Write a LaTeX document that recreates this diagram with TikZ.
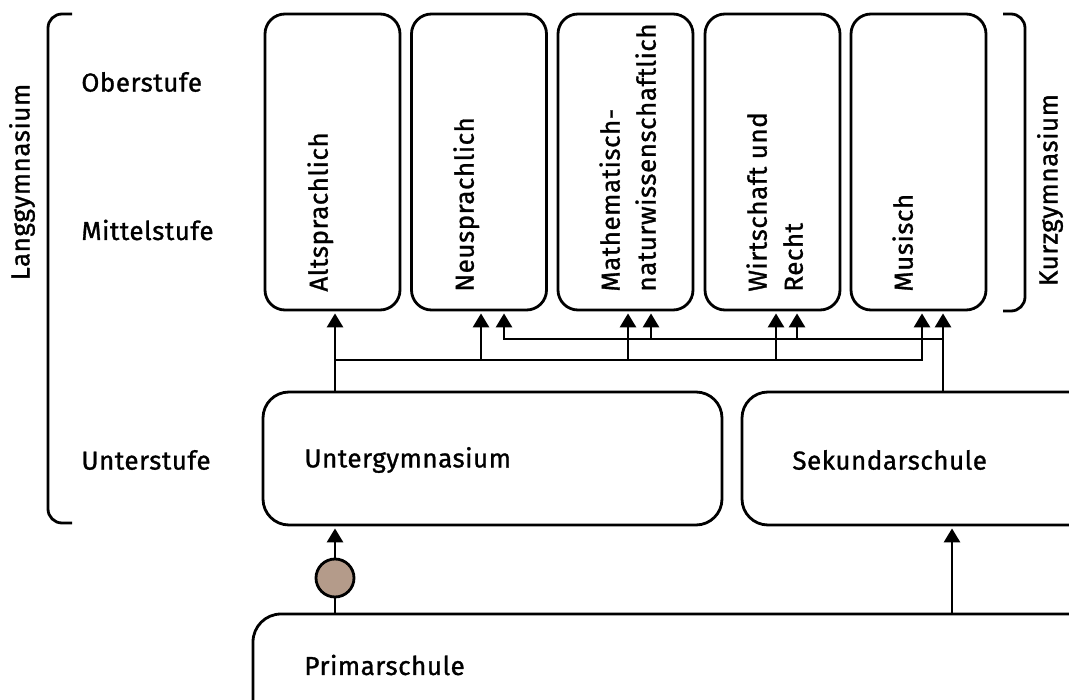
\documentclass[tikz,border=0pt]{standalone}
\usepackage{fontspec}
\setmainfont{Fira Sans}[FakeBold=1.1, LetterSpace=2]
\usetikzlibrary{arrows.meta,calc}
\definecolor{dotfill}{RGB}{180,155,138}
\begin{document}
\begin{tikzpicture}[x=1pt,y=-1pt,
  line width=2.8pt,
  every node/.style={font=\fontsize{26}{36}\selectfont, inner sep=0pt, text=black},
  prog/.style={draw, rounded corners=20pt, minimum width=135pt, minimum height=296pt},
  level/.style={draw, rounded corners=26pt, minimum height=133pt},
  vlabel/.style={rotate=90, anchor=north west, align=left},
  hlabel/.style={anchor=west},
  arr/.style={-{Triangle[width=16pt,length=14pt]}, shorten >=2pt},
  brace/.style={rounded corners=14pt}
]
\useasboundingbox (0,0) rectangle (1069,700);
\clip (0,0) rectangle (1069,700);

% braces and stage labels
\draw[brace] (72,14) -- (48,14) -- (48,523) -- (72,523);
\draw[brace] (1003,14) -- (1025,14) -- (1025,311) -- (1003,311);
\node[rotate=90] (lang) at (22,182) {Langgymnasium};
\node[rotate=90] (kurz) at (1050,190) {Kurzgymnasium};
\node[hlabel] (ober) at (80,82) {Oberstufe};
\node[hlabel] (mittel) at (80,230) {Mittelstufe};
\node[hlabel] (unter) at (80,460) {Unterstufe};

% programme boxes
\node[prog] (alt) at (332.5,162) {};
\node[prog] (neu) at (479,162) {};
\node[prog] (mat) at (625.5,162) {};
\node[prog] (wir) at (772.5,162) {};
\node[prog] (mus) at (918.5,162) {};
\node[vlabel] (altT) at (306,293) {Altsprachlich};
\node[vlabel] (neuT) at (452,293) {Neusprachlich};
\node[vlabel] (matT) at (598,293) {Mathematisch-\\naturwissenschaftlich};
\node[vlabel] (wirT) at (745,293) {Wirtschaft und\\Recht};
\node[vlabel] (musT) at (891,293) {Musisch};

% lower levels
\node[level, minimum width=459pt] (ug) at (492.5,458.5) {};
\node[hlabel] (ugT) at (303,460) {Untergymnasium};
\node[level, minimum width=400pt] (sek) at (942,458.5) {};
\node[hlabel] (sekT) at (791,460) {Sekundarschule};
\node[draw, rounded corners=28pt, minimum width=900pt, minimum height=186pt] (prim) at (703,707) {};
\node[hlabel] (primT) at (303,665) {Primarschule};
\node[draw, circle, fill=dotfill, minimum size=38pt] (dot) at (335,578) {};

% coordinates
\coordinate (xA) at (335,0);
\coordinate (xN) at (481,0);
\coordinate (xM) at (628,0);
\coordinate (xW) at (776,0);
\coordinate (xS) at (952,0);
\coordinate (h1L) at (335,360);
\coordinate (h1R) at (922,360);
\coordinate (h2L) at (504,339);
\coordinate (h2R) at (943,339);
\coordinate (xM2) at (651,0);
\coordinate (xW2) at (797,0);

% connectors
\draw (prim.north -| dot) -- (dot.south);
\draw[arr] (dot.north) -- (ug.south -| dot);
\draw[arr] (prim.north -| xS) -- (sek.south -| xS);
\draw[arr] (ug.north -| xA) -- (alt.south -| xA);
\draw[arr] (h1L) -- (h1R) -- (mus.south -| h1R);
\draw[arr] (h1L -| xN) -- (neu.south -| xN);
\draw[arr] (h1L -| xM) -- (mat.south -| xM);
\draw[arr] (h1L -| xW) -- (wir.south -| xW);
\draw[arr] (sek.north -| h2R) -- (mus.south -| h2R);
\draw[arr] (h2R) -- (h2L) -- (neu.south -| h2L);
\draw[arr] (h2L -| xM2) -- (mat.south -| xM2);
\draw[arr] (h2L -| xW2) -- (wir.south -| xW2);
\end{tikzpicture}
\end{document}
